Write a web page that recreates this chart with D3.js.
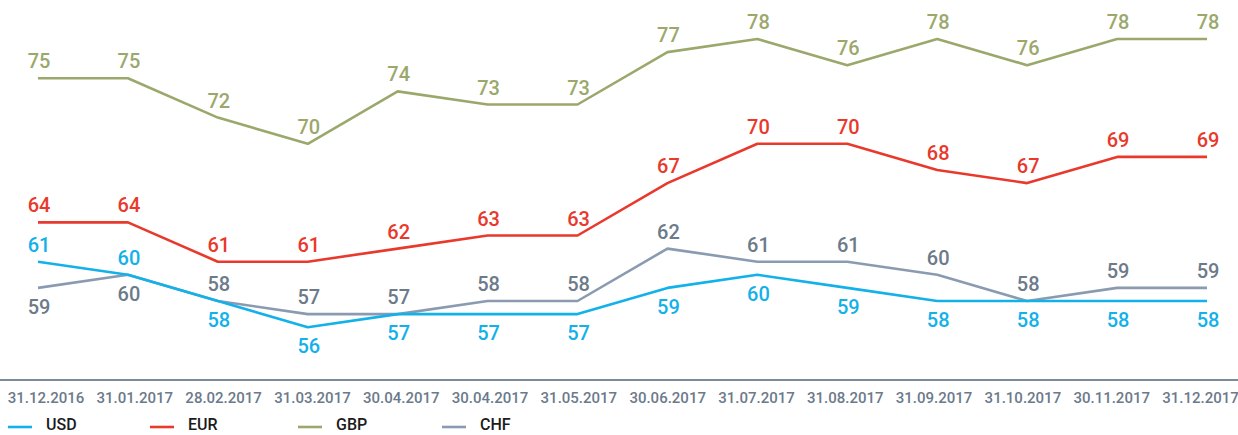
<!DOCTYPE html>
<html><head><meta charset="utf-8">
<script src="https://cdn.jsdelivr.net/npm/d3@7"></script>
<style>
html,body{margin:0;padding:0;background:#fff;}
svg{display:block;}
</style></head>
<body>
<svg id="chart" width="1238" height="435"></svg>
<script>
const categories = ["31.12.2016","31.01.2017","28.02.2017","31.03.2017","30.04.2017","30.04.2017","31.05.2017","30.06.2017","31.07.2017","31.08.2017","31.09.2017","31.10.2017","30.11.2017","31.12.2017"];
const usd = [61,60,58,56,57,57,57,59,60,59,58,58,58,58];
const eur = [64,64,61,61,62,63,63,67,70,70,68,67,69,69];
const gbp = [75,75,72,70,74,73,73,77,78,76,78,76,78,78];
const chf = [59,60,58,57,57,58,58,62,61,61,60,58,59,59];
const usdLabelPos = ["a","a","b","b","b","b","b","b","b","b","b","b","b","b"];
const chfLabelPos = ["b","b","a","a","a","a","a","a","a","a","a","a","a","a"];

const series = [
  {name:"USD", values:usd, color:"#13b1ea", text:"#13b1ea", pos:usdLabelPos},
  {name:"EUR", values:eur, color:"#e8392c", text:"#e8392c", pos:null},
  {name:"GBP", values:gbp, color:"#9ba86c", text:"#9ba86c", pos:null},
  {name:"CHF", values:chf, color:"#8a9bb1", text:"#6c7a8a", pos:chfLabelPos}
];

const FONT = "Roboto, 'DejaVu Sans', sans-serif";
const svg = d3.select("#chart");
const x = d3.scalePoint().domain(d3.range(categories.length)).range([38,1207]);
const xLab = d3.scalePoint().domain(d3.range(categories.length)).range([45.5,1200]);
const y = d3.scaleLinear().domain([56,78]).range([327.2,39]);

// axis baseline
svg.append("line").attr("x1",0).attr("x2",1238).attr("y1",380).attr("y2",380)
  .attr("stroke","#4f6479").attr("stroke-width",1.5);

const axis = d3.axisBottom(xLab).tickSize(0).tickPadding(0).tickFormat(i=>categories[i]);
const ax = svg.append("g").attr("transform","translate(0,380)").call(axis);
ax.select(".domain").remove();
ax.selectAll("text").attr("y",23).attr("dy",0)
  .attr("fill","#6b7a8b").style("font-family",FONT)
  .style("font-size","15px").style("font-weight","500");

const line = d3.line().x((d,i)=>x(i)).y(d=>y(d));

const order = ["GBP","EUR","CHF","USD"];
order.forEach(n=>{
  const s = series.find(t=>t.name===n);
  svg.append("path").datum(s.values).attr("d",line).attr("fill","none")
    .attr("stroke",s.color).attr("stroke-width",2.6).attr("stroke-linejoin","round");
});
order.forEach(n=>{
  const s = series.find(t=>t.name===n);
  svg.append("g").selectAll("text").data(s.values).join("text")
    .attr("x",(d,i)=>x(i)+1)
    .attr("y",(d,i)=> (s.pos && s.pos[i]==="b") ? y(d)+26 : y(d)-10)
    .attr("text-anchor","middle")
    .attr("fill",s.text)
    .style("font-family",FONT)
    .style("font-size","20px").style("font-weight","500")
    .text(d=>d);
});

// legend
const legX = [8,150,298,442];
const lg = svg.append("g");
series.forEach((s,k)=>{
  lg.append("line").attr("x1",legX[k]).attr("x2",legX[k]+24).attr("y1",427).attr("y2",427)
    .attr("stroke",s.color).attr("stroke-width",2.6);
  lg.append("text").attr("x",legX[k]+38).attr("y",430).attr("fill","#1b1b1b")
    .style("font-family",FONT)
    .style("font-size","16px").style("font-weight","500").text(s.name);
});
</script>
</body></html>
